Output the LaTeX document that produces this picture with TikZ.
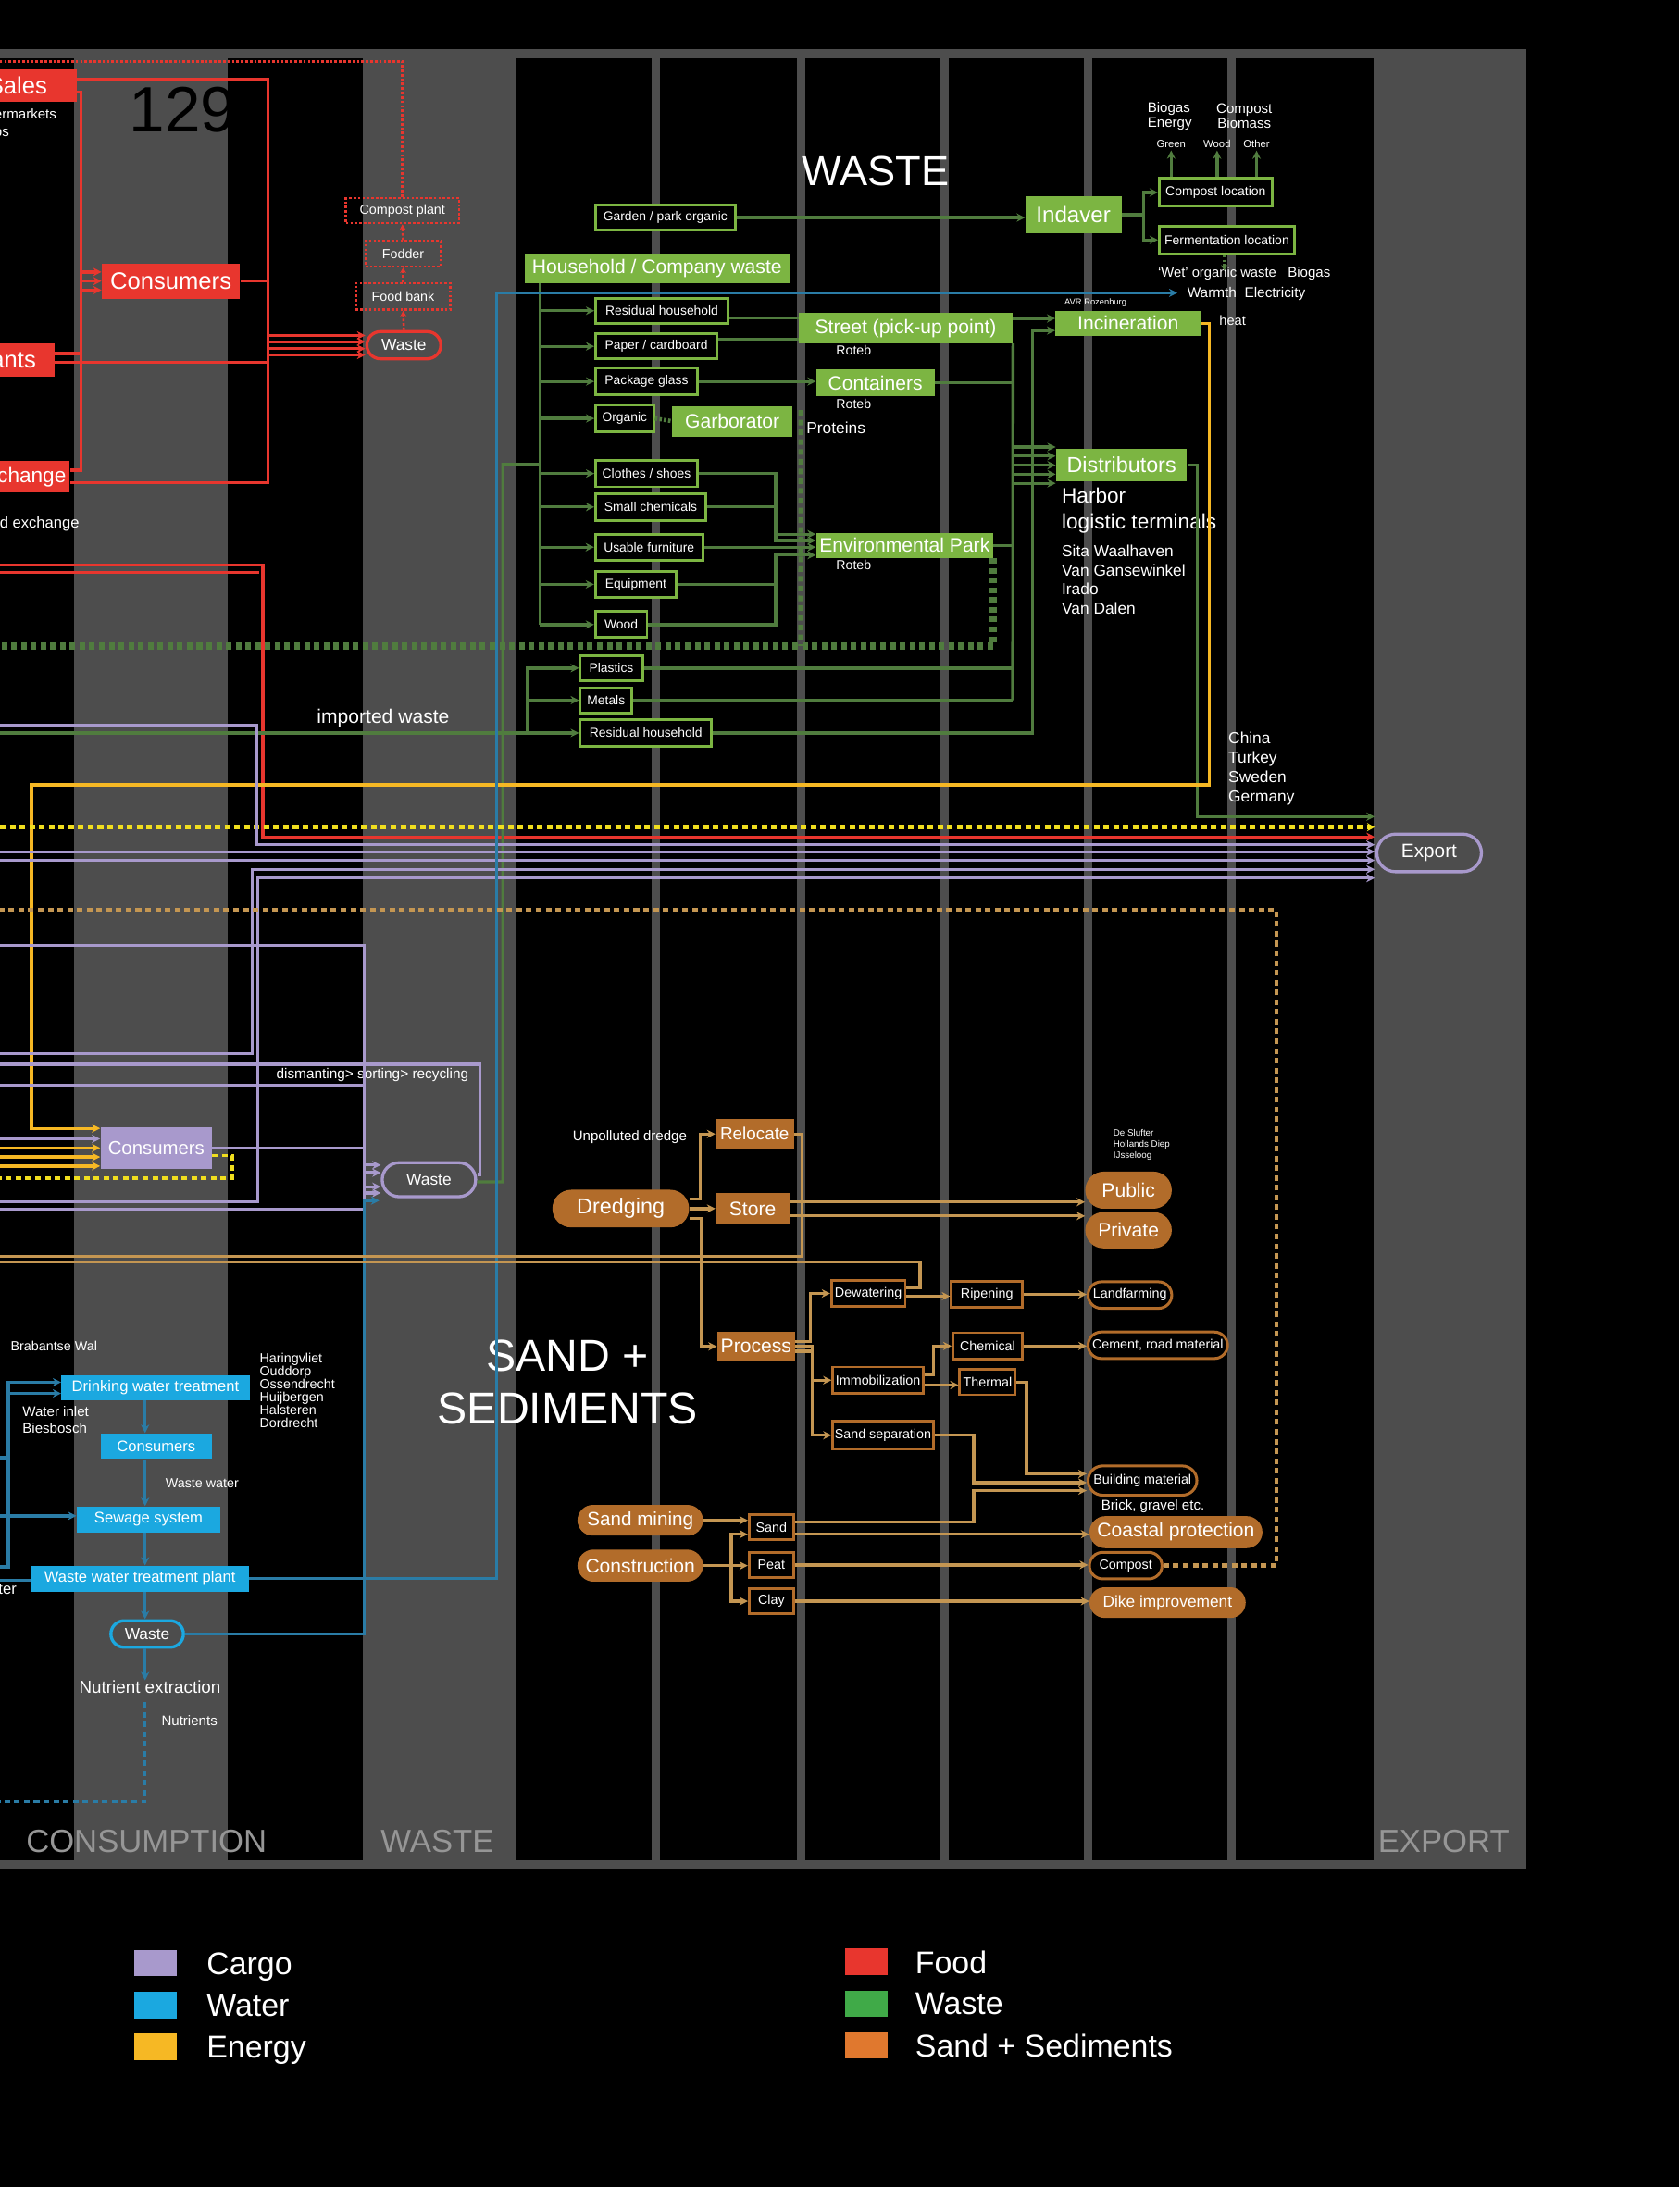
\documentclass[tikz,border=0pt]{standalone}
\usepackage{fontspec}
\setmainfont{Liberation Sans}
\usetikzlibrary{arrows.meta,calc,shapes.misc}
\definecolor{panel}{RGB}{77,77,77}
\definecolor{foodred}{RGB}{232,54,46}
\definecolor{wastefill}{RGB}{124,181,66}
\definecolor{wasteline}{RGB}{80,124,62}
\definecolor{cargo}{RGB}{168,153,204}
\definecolor{water}{RGB}{27,168,224}
\definecolor{waterline}{RGB}{42,124,166}
\definecolor{energy}{RGB}{246,184,36}
\definecolor{energydash}{RGB}{240,222,30}
\definecolor{sandfill}{RGB}{178,108,42}
\definecolor{sandline}{RGB}{196,150,82}
\definecolor{colgray}{RGB}{150,150,150}
\definecolor{legwaste}{RGB}{64,170,72}
\definecolor{legsand}{RGB}{224,120,46}
\newcommand{\fs}[2]{\fontsize{#1}{#2}\selectfont}

\begin{document}
\begin{tikzpicture}[
  x=1pt, y=-1pt,
  every node/.style={text=white, inner sep=0pt, font=\fs{10}{12}},
  sz/.style 2 args={minimum width=#1pt, minimum height=#2pt},
  foodbox/.style={fill=foodred, font=\fs{17}{20}},
  fooddot/.style={draw=foodred, line width=1.7pt, dash pattern=on 1.8pt off 1.4pt, font=\fs{9.5}{11}},
  wastebox/.style={fill=wastefill, font=\fs{14}{16}},
  wasteout/.style={draw=wastefill, line width=1.9pt, fill=black, font=\fs{9.2}{11}},
  cargobox/.style={fill=cargo, font=\fs{13.5}{16}},
  waterbox/.style={fill=water, font=\fs{11}{13}},
  sandbox/.style={fill=sandfill, font=\fs{14}{16}},
  sandpill/.style={rounded rectangle, fill=sandfill, font=\fs{14}{16}},
  sandout/.style={draw=sandfill, line width=1.8pt, fill=black, font=\fs{9.5}{11}},
  sandring/.style={rounded rectangle, draw=sandfill, line width=2pt, fill=black, font=\fs{9.5}{11}},
  ring/.style={rounded rectangle, draw=#1, line width=2.2pt, font=\fs{11.5}{14}},
  pipe/.style={draw=#1, line width=2.2pt},
  flow/.style={pipe=#1, -{Stealth[length=6pt,width=6pt]}},
  dotpipe/.style={draw=#1, line width=1.7pt, dash pattern=on 1.8pt off 1.4pt},
  chkpipe/.style={draw=#1, line width=3.2pt, dash pattern=on 4pt off 3pt},
  collabel/.style={text=colgray, font=\fs{23}{24}},
  legsq/.style={sz={31}{19}},
  legtext/.style={anchor=base west, font=\fs{22.5}{24}},
]
% panel and columns
\useasboundingbox (0,0) rectangle (1204,1568);
\clip (0,0) rectangle (1204,1568);
\fill[black] (0,0) rectangle (1204,1568);
\fill[panel] (0,35) rectangle (1094,1340);
\foreach \a/\b in {0/53,163/260,370/985}
  \fill[black] (\a,42) rectangle (\b,1334);
\foreach \a in {467,571,674,777,880}
  \fill[panel] (\a,42) rectangle ++(6,1292);

% free ends
\foreach \n/\y in {fdTop/44,rA/405,rB/410.5,gChk/463,cA/520,imp/525.5,yD/593,cB/610.6,cC/616.8,sD/652.3,cD/678,cF/755.5,cG/763,cH/778,cI/816.5,yA/823,yB/829.5,yC/836,yE/844.7,cJ/861.7,cE/867,sA/900.7,sB/904.8,wA/1045,wB/1086.8,wC/1123.4,wD/1133,wE/1291.5}
  \coordinate (\n) at (0,\y);
\foreach \n/\y in {eG/585.5,eY/593,eR/600,eL1/605.6,eL2/610.6,eL3/616.8,eL4/623.3,eL5/629.5}
  \coordinate (\n) at (985.5,\y);

% column labels
\node[collabel] (colCons) at (105,1320) {CONSUMPTION};
\node[collabel] (colWaste) at (313.5,1320) {WASTE};
\node[collabel] (colExport) at (1035,1320) {EXPORT};
\node[text=black, font=\fs{46}{46}] (pnum) at (131,79) {129};

% food
\node[foodbox, sz={85}{23}] (sales) at (12.5,61.5) {Sales};
\node[align=left, anchor=west, font=\fs{10}{12}] (shops) at (-22,89) {Supermarkets\\Shops};
\node[foodbox, sz={99}{25}] (consF) at (122.5,201.5) {Consumers};
\node[foodbox, sz={118}{24}] (rest) at (-20,258) {Restaurants};
\node[foodbox, font=\fs{15}{18}, sz={72}{22.5}] (exch) at (14,342) {Exchange};
\node[anchor=east, font=\fs{11}{13}] (fexch) at (57,376) {Food exchange};
\node[ring=foodred, sz={53}{19.5}] (wasteF) at (289.5,247.5) {Waste};
\node[fooddot, sz={68}{19}] (fbank) at (289,212.5) {Food bank};
\node[fooddot, sz={54}{18}] (fodder) at (289,182) {Fodder};
\node[fooddot, sz={81}{18}] (cplant) at (288.5,151) {Compost plant};

% waste
\node[font=\fs{30}{30}] (titleWaste) at (627.6,123) {WASTE};
\node[wasteout, sz={100}{18}] (garden) at (477,156) {Garden / park organic};
\node[wastebox, font=\fs{16}{18}, sz={69}{26}] (indaver) at (769.5,154) {Indaver};
\node[wasteout, font=\fs{9.3}{11}, sz={81}{20}] (comploc) at (871.5,138) {Compost location};
\node[wasteout, font=\fs{9.3}{11}, sz={97}{20}] (fermloc) at (879.5,172) {Fermentation location};
\node[align=left, anchor=west, font=\fs{10}{10.5}] (bioE) at (822.5,83.3) {Biogas\\Energy};
\node[align=center, font=\fs{10}{10.5}] (compB) at (892,83.3) {Compost\\Biomass};
\node[font=\fs{7.5}{8}] (lGreen) at (839.6,103) {Green};
\node[font=\fs{7.5}{8}] (lWood) at (872.5,103) {Wood};
\node[font=\fs{7.5}{8}] (lOther) at (900.8,103) {Other};
\node[anchor=west, font=\fs{9.8}{11}] (wetorg) at (830,196) {`Wet' organic waste};
\node[anchor=west, font=\fs{10}{11}] (biogas) at (923,196) {Biogas};
\node[anchor=west, font=\fs{10.2}{11}] (warmth) at (851,211) {Warmth\ \ Electricity};
\node[anchor=west, font=\fs{6.2}{7}] (avr) at (763,217) {AVR Rozenburg};
\node[anchor=west, font=\fs{9.7}{11}] (heat) at (874,229.5) {heat};
\node[wastebox, sz={190}{21}] (household) at (471,192.5) {Household / Company waste};
\node[wasteout, sz={95}{18}] (resid1) at (474.5,222.8) {Residual household};
\node[wasteout, sz={87}{18}] (paper) at (470.5,248.3) {Paper / cardboard};
\node[wasteout, sz={73}{19}] (glass) at (463.5,273.5) {Package glass};
\node[wasteout, sz={41.5}{19}] (organic) at (447.8,300) {Organic};
\node[wasteout, sz={73}{19}] (clothes) at (463.5,339.5) {Clothes / shoes};
\node[wasteout, sz={79}{19}] (smallchem) at (466.5,363.5) {Small chemicals};
\node[wasteout, sz={77}{18.6}] (furniture) at (465.3,392.3) {Usable furniture};
\node[wasteout, sz={58}{19}] (equipment) at (455.8,419) {Equipment};
\node[wasteout, sz={37}{18.5}] (wood) at (445.3,447.8) {Wood};
\node[wasteout, sz={44.6}{18}] (plastics) at (438.3,479) {Plastics};
\node[wasteout, sz={37}{18}] (metals) at (434.5,502) {Metals};
\node[wasteout, sz={94}{19}] (resid2) at (463,525.5) {Residual household};
\node[wastebox, sz={153.4}{21.5}] (street) at (649.3,235.3) {Street (pick-up point)};
\node[wastebox, sz={85}{19}] (containers) at (627.5,274.5) {Containers};
\node[wastebox, sz={86}{22}] (garborator) at (525,302) {Garborator};
\node[wastebox, sz={127}{18}] (envpark) at (648.5,391) {Environmental Park};
\node[wastebox, sz={104}{18}] (incin) at (808.7,231.8) {Incineration};
\node[wastebox, font=\fs{15.5}{18}, sz={94}{23}] (distrib) at (804,333.5) {Distributors};
\node[font=\fs{9.4}{11}] (roteb1) at (612,251) {Roteb};
\node[font=\fs{9.4}{11}] (roteb2) at (612,289.4) {Roteb};
\node[font=\fs{9.4}{11}] (roteb3) at (612,405) {Roteb};
\node[anchor=west, font=\fs{11.5}{13}] (proteins) at (578,306.7) {Proteins};
\node[align=left, anchor=west, font=\fs{15}{18.5}] (harbor) at (761,366) {Harbor\\logistic terminals};
\node[align=left, anchor=west, font=\fs{11.5}{13.7}] (distnames) at (761,415.5) {Sita Waalhaven\\Van Gansewinkel\\Irado\\Van Dalen};
\node[anchor=west, font=\fs{14}{16}] (impw) at (227,515) {imported waste};
\node[align=left, anchor=west, font=\fs{11.5}{14}] (countries) at (880.5,551) {China\\Turkey\\Sweden\\Germany};

% cargo
\node[cargobox, sz={80}{30}] (consC) at (112,823) {Consumers};
\node[ring=cargo, sz={67}{24.4}] (wasteC) at (307.5,845.8) {Waste};
\node[font=\fs{10.2}{11}] (recyc) at (267,771) {dismanting> sorting> recycling};
\node[ring=cargo, font=\fs{13.8}{16}, sz={75}{27}] (export) at (1024.5,611.5) {Export};

% water
\node[anchor=west, font=\fs{9.5}{11}] (brabant) at (7.5,965) {Brabantse Wal};
\node[waterbox, sz={135}{18}] (drinking) at (111.5,995) {Drinking water treatment};
\node[align=left, anchor=west, font=\fs{10}{12}] (inlet) at (16,1018) {Water inlet\\Biesbosch};
\node[align=left, anchor=west, font=\fs{9.5}{9.3}] (towns) at (186,996.8) {Haringvliet\\Ouddorp\\Ossendrecht\\Huijbergen\\Halsteren\\Dordrecht};
\node[waterbox, sz={80}{18.4}] (consW) at (112,1036.8) {Consumers};
\node[anchor=west, font=\fs{9.5}{11}] (wwlabel) at (118.5,1063.5) {Waste water};
\node[waterbox, sz={103}{18.6}] (sewage) at (106.5,1089.3) {Sewage system};
\node[waterbox, sz={156.5}{18.4}] (wwtp) at (100.3,1131.8) {Waste water treatment plant};
\node[anchor=east, font=\fs{11}{12}] (inwater) at (12,1139) {Water};
\node[ring=water, sz={52}{19}] (wasteW) at (105.5,1171.5) {Waste};
\node[font=\fs{12.5}{14}] (nutr) at (107.5,1209.5) {Nutrient extraction};
\node[anchor=west, font=\fs{10}{11}] (nutrients) at (115.6,1233.6) {Nutrients};

% sand + sediments
\node[align=center, font=\fs{32}{38}] (titleSand) at (407,991) {SAND +\\SEDIMENTS};
\node[font=\fs{10}{11}] (unpol) at (451.5,815) {Unpolluted dredge};
\node[sandpill, font=\fs{15.5}{18}, sz={98}{27}] (dredging) at (445,866.5) {Dredging};
\node[sandbox, font=\fs{12.5}{14}, sz={56}{22}] (relocate) at (541,813) {Relocate};
\node[sandbox, sz={53}{22.5}] (store) at (539.5,866.8) {Store};
\node[sandbox, sz={56}{21.5}] (process) at (542,965.3) {Process};
\node[align=left, anchor=west, font=\fs{6.5}{7.7}] (dumps) at (798,820.8) {De Slufter\\Hollands Diep\\IJsseloog};
\node[sandpill, sz={62}{26.6}] (public) at (809,853.3) {Public};
\node[sandpill, sz={62}{26}] (private) at (809,882) {Private};
\node[sandout, sz={53}{18.6}] (dewater) at (622.5,927.3) {Dewatering};
\node[sandout, sz={51}{19}] (ripening) at (707.5,928) {Ripening};
\node[sandring, sz={60}{19}] (landfarm) at (810,928.5) {Landfarming};
\node[sandout, sz={65}{19}] (immob) at (629.5,989.5) {Immobilization};
\node[sandout, sz={50}{19}] (chemical) at (708,965) {Chemical};
\node[sandout, sz={40}{18.4}] (thermal) at (708,990.8) {Thermal};
\node[sandring, sz={100}{19}] (cement) at (830,964.5) {Cement, road material};
\node[sandout, sz={72}{20}] (sandsep) at (633,1029) {Sand separation};
\node[sandring, sz={78}{21}] (building) at (819,1061.5) {Building material};
\node[font=\fs{10}{11}] (brick) at (826.5,1080) {Brick, gravel etc.};
\node[sandpill, font=\fs{13.7}{16}, sz={90}{22}] (sandmining) at (459,1090) {Sand mining};
\node[sandpill, sz={90}{23}] (construction) at (459,1122.5) {Construction};
\node[sandout, sz={32}{18}] (sandS) at (553,1095) {Sand};
\node[sandout, sz={32}{18}] (peat) at (553,1122) {Peat};
\node[sandout, sz={32}{18}] (clay) at (553,1148) {Clay};
\node[sandpill, sz={124}{23}] (coastal) at (843,1098.5) {Coastal protection};
\node[sandring, sz={52}{19}] (compostS) at (807,1122.5) {Compost};
\node[sandpill, font=\fs{11.5}{14}, sz={112}{22}] (dike) at (837,1149) {Dike improvement};

% legend
\node[legsq, fill=cargo] (lgCargo) at (111.5,1407.5) {};
\node[legsq, fill=water] (lgWater) at (111.5,1437.5) {};
\node[legsq, fill=energy] (lgEnergy) at (111.5,1467.5) {};
\node[legsq, fill=foodred] (lgFood) at (621,1406.5) {};
\node[legsq, fill=legwaste] (lgWaste) at (621,1436.5) {};
\node[legsq, fill=legsand] (lgSand) at (621,1466.5) {};
\node[legtext] (ltCargo) at (148,1416) {Cargo};
\node[legtext] (ltWater) at (148,1445.5) {Water};
\node[legtext] (ltEnergy) at (148,1475.5) {Energy};
\node[legtext] (ltFood) at (656,1415) {Food};
\node[legtext] (ltWaste) at (656,1444.5) {Waste};
\node[legtext] (ltSand) at (656,1474.5) {Sand + Sediments};

% food connectors
\coordinate (fbT) at (192,57);
\coordinate (fbB) at (192,346);
\coordinate (lbT) at (58,66);
\coordinate (lbB) at (58,337);
\draw[dotpipe=foodred] (cplant.north) |- (fdTop);
\draw[pipe=foodred] (sales.east |- fbT) -- (fbT) -- (fbB) -- (exch.east |- fbB);
\draw[pipe=foodred] (sales.east |- lbT) -- (lbT) -- (lbB) -- (exch.east |- lbB);
\foreach \d in {-6.5,0,6.5}
  \draw[flow=foodred] ($(consF.west -| lbT)+(0,\d)$) -- ($(consF.west)+(0,\d)$);
\draw[pipe=foodred] (consF.east) -- (consF.east -| fbT);
\draw[pipe=foodred] ($(rest.east)+(0,-4.5)$) -- ($(rest.east -| lbT)+(0,-4.5)$);
\draw[pipe=foodred] ($(rest.east)+(0,2)$) -- ($(rest.east -| fbT)+(0,2)$);
\foreach \d in {-7,-2.5,2.5,7}
  \draw[flow=foodred] ($(wasteF.west -| fbT)+(0,\d)$) -- ($(wasteF.west)+(0,\d)$);
\draw[dotpipe=foodred, -{Stealth[length=4pt,width=4.5pt]}] (wasteF.north) -- (fbank.south);
\draw[dotpipe=foodred, -{Stealth[length=4pt,width=4.5pt]}] (fbank.north) -- (fodder.south);
\draw[dotpipe=foodred, -{Stealth[length=4pt,width=4.5pt]}] (fodder.north) -- (cplant.south);
\draw[flow=foodred] (rA) -- (188.5,405) -- (188.5,600) -- (eR);
\draw[pipe=foodred] (rB) -- (186,410.5);

% waste connectors
\draw[flow=wasteline] (garden.east) -- (garden.east -| indaver.west);
\coordinate (ibus) at (820,154);
\draw[pipe=wasteline] (indaver.east) -- (ibus);
\draw[flow=wasteline] (ibus) |- (comploc.west);
\draw[flow=wasteline] (ibus) |- (fermloc.west);
\foreach \n in {lGreen,lWood,lOther}
  \draw[flow=wasteline, shorten >=2pt] (comploc.north -| \n.south) -- (\n.south);
\coordinate (wetin) at (877.6,194);
\draw[dotpipe=wasteline, -{Stealth[length=4pt,width=4.5pt]}] (fermloc.south -| wetin) -- (wetin);
\coordinate (hbT) at (387,204);
\coordinate (hbB) at (387,448);
\draw[pipe=wasteline] (household.south -| hbT) -- (hbB);
\foreach \n in {resid1,paper,glass,organic,clothes,smallchem,furniture,equipment,wood}
  \draw[flow=wasteline] (\n.west -| hbT) -- (\n.west);
\coordinate (hj) at (387,333);
\draw[pipe=wasteline] (hj) -| (360.5,847.4) -- ($(wasteC.east)+(0,1.6)$);
\draw[pipe=wasteline] ($(resid1.east)+(0,5)$) -- ($(resid1.east -| street.west)+(0,5)$);
\draw[pipe=wasteline] ($(paper.east)+(0,-5)$) -- ($(paper.east -| street.west)+(0,-5)$);
\draw[flow=wasteline] ($(street.east)+(0,-7)$) -- ($(street.east -| incin.west)+(0,-7)$);
\draw[flow=wasteline] (glass.east) -- (glass.east -| containers.west);
\coordinate (busA) at (726,246);
\coordinate (busAb) at (726,502);
\draw[pipe=wasteline] (street.south east) -- (busAb);
\draw[pipe=wasteline] (containers.east) -- (containers.east -| busA);
\draw[pipe=wasteline] (envpark.east) -- (envpark.east -| busA);
\draw[pipe=wasteline] (plastics.east) -- (plastics.east -| busA);
\draw[pipe=wasteline] (metals.east) -- (metals.east -| busA);
\foreach \d in {-13,-6.5,0,6.5,13}
  \draw[flow=wasteline] ($(distrib.west -| busA)+(0,\d)$) -- ($(distrib.west)+(0,\d)$);
\coordinate (busB) at (740,237);
\draw[flow=wasteline] (resid2.east) -| (busB) -- (busB -| incin.west);
\coordinate (ebus) at (556,382);
\draw[flow=wasteline] (clothes.east) -| ($(envpark.west -| ebus)+(0,-8)$) -- ($(envpark.west)+(0,-8)$);
\draw[flow=wasteline] (smallchem.east) -| ($(envpark.west -| ebus)+(0,-3.5)$) -- ($(envpark.west)+(0,-3.5)$);
\draw[flow=wasteline] (furniture.east) -- (furniture.east -| envpark.west);
\draw[flow=wasteline] (equipment.east) -| ($(envpark.west -| ebus)+(0,7)$) -- ($(envpark.west)+(0,7)$);
\draw[pipe=wasteline] (wood.east) -| ($(envpark.west -| ebus)+(0,7)$);
\draw[dotpipe=wasteline, line width=3pt] (organic.east) -- (garborator.west);
\coordinate (gd) at (574,463);
\draw[chkpipe=wasteline, line width=3.5pt] ($(garborator.east)+(6,-8)$) -- (gd);
\draw[chkpipe=wasteline, line width=5.5pt] (envpark.south east) |- (gChk);
\coordinate (ib) at (378,478);
\draw[pipe=wasteline] (imp) -| (ib);
\foreach \n in {plastics,metals,resid2}
  \draw[flow=wasteline] (\n.west -| ib) -- (\n.west);
\draw[flow=wasteline] (distrib.east) -| (858.5,585.5) -- (eG);

% energy connectors
\coordinate (yIn) at (22.5,809);
\draw[flow=energy] (incin.east) -| (867,562.6) -| (yIn) -- (yIn -| consC.west);
\draw[chkpipe=energydash, -{Stealth[length=5.5pt,width=6pt]}] (yD) -- (eY);
\draw[flow=energy] (yA) -- (yA -| consC.west);
\draw[flow=energy] (yB) -- (yB -| consC.west);
\draw[flow=energy] (yC) -- (yC -| consC.west);
\coordinate (yLoop) at (166.6,828.5);
\draw[chkpipe=energydash, line width=2.5pt] (yLoop -| consC.east) -- (yLoop) -- (166.6,844.7) -- (yE);

% cargo connectors
\coordinate (cbus) at (261,678);
\draw[flow=cargo] (cA) -- (184,520) -- (184,605.6) -- (eL1);
\draw[flow=cargo] (cB) -- (eL2);
\draw[flow=cargo] (cC) -- (eL3);
\draw[flow=cargo] (cF) -- (181,755.5) -- (181,623.3) -- (eL4);
\draw[flow=cargo] (cJ) -- (185,861.7) -- (185,629.5) -- (eL5);
\draw[pipe=cargo] (cD) -- (cbus) -- (261,867) -- (cE);
\draw[pipe=cargo] (cH) -- (cH -| cbus);
\draw[pipe=cargo] (consC.east) -- (consC.east -| cbus);
\draw[pipe=cargo] (cG) -- (344,763) -- (344,842) -- ($(wasteC.east)+(0,-3.8)$);
\foreach \d in {-10.5,-5,5,9.5}
  \draw[flow=cargo] ($(wasteC.west -| cbus)+(0,\d)$) -- ($(wasteC.west)+(0,\d)$);
\draw[flow=cargo] (cI) -- (cI -| consC.west);

% water connectors
\coordinate (wx) at (104,0);
\draw[flow=waterline] (drinking.south -| wx) -- (consW.north -| wx);
\draw[flow=waterline] (consW.south -| wx) -- (sewage.north -| wx);
\draw[flow=waterline] (sewage.south -| wx) -- (wwtp.north -| wx);
\draw[flow=waterline] (wwtp.south -| wx) -- (wasteW.north -| wx);
\draw[flow=waterline] (wasteW.south -| wx) -- (nutr.north -| wx);
\draw[pipe=waterline, dash pattern=on 4pt off 3pt] ($(nutr.south -| wx)+(0,6)$) |- (wE);
\coordinate (wl) at (6,991);
\draw[flow=waterline] (wC) -| (wl) -- ($(drinking.west)+(0,-4)$);
\draw[flow=waterline] ($(wl)+(0,8)$) -- ($(drinking.west)+(0,4)$);
\draw[pipe=waterline] (wA) -- (6,1045);
\draw[flow=waterline] (wB) -- (wB -| sewage.west);
\draw[pipe=waterline] (wD) -- (wD -| wwtp.west);
\coordinate (wtip) at (844,210);
\draw[flow=waterline] (wwtp.east) -| (356,210) -- (wtip);
\draw[flow=waterline] (wasteW.east) -| ($(wasteC.west -| cbus)+(0,15)$) -- ($(wasteC.west)+(-1,15)$);

% sand connectors
\draw[flow=sandline] ($(dredging.east)+(0,-7)$) -| ($(relocate.west)+(-11,0)$) -- (relocate.west);
\draw[flow=sandline] (dredging.east) -- (dredging.east -| store.west);
\draw[flow=sandline] ($(dredging.east)+(0,7)$) -| ($(process.west)+(-11,0)$) -- (process.west);
\draw[flow=sandline] ($(store.east)+(0,-5)$) -- ($(store.east -| public.west)+(0,-5)$);
\draw[flow=sandline] ($(store.east)+(0,5)$) -- ($(store.east -| private.west)+(0,5)$);
\draw[pipe=sandline] (relocate.east) -| (575,900.7) -- (sA);
\draw[pipe=sandline] ($(dewater.east)+(0,-4)$) -| (659.6,904.8) -- (sB);
\draw[flow=sandline] ($(dewater.east)+(0,2)$) -- ($(dewater.east -| ripening.west)+(0,2)$);
\draw[flow=sandline] (ripening.east) -- (ripening.east -| landfarm.west);
\draw[flow=sandline] ($(process.east)+(0,-3.5)$) -| ($(dewater.west)+(-14,0)$) -- (dewater.west);
\draw[flow=sandline] (process.east) -| ($(immob.west)+(-14,0)$) -- (immob.west);
\draw[flow=sandline] ($(process.east)+(0,3.5)$) -| ($(sandsep.west)+(-14,0)$) -- (sandsep.west);
\draw[flow=sandline] ($(immob.east)+(0,-4)$) -| ($(chemical.west)+(-13,0)$) -- (chemical.west);
\draw[flow=sandline] ($(immob.east)+(0,3.5)$) -- ($(immob.east -| thermal.west)+(0,3.5)$);
\draw[flow=sandline] (chemical.east) -- (chemical.east -| cement.west);
\coordinate (bb) at (698,1063);
\draw[flow=sandline] (thermal.east) -| (735.8,1056.7) -- ($(building.west)+(0,-4.8)$);
\draw[flow=sandline] (sandsep.east) -| (bb) -- (bb -| building.west);
\draw[flow=sandline] ($(sandS.east)+(0,-4)$) -| (698,1068.7) -- ($(building.west)+(0,7.2)$);
\draw[flow=sandline] ($(sandS.east)+(0,5)$) -- ($(sandS.east -| coastal.west)+(0,5)$);
\draw[flow=sandline] (sandmining.east) -- (sandmining.east -| sandS.west);
\draw[flow=sandline] (construction.east) -- (construction.east -| peat.west);
\draw[flow=sandline] ($(construction.east)+(20,0)$) |- ($(sandS.west)+(0,5)$);
\draw[flow=sandline] ($(construction.east)+(20,0)$) |- (clay.west);
\draw[flow=sandline] (peat.east) -- (peat.east -| compostS.west);
\draw[flow=sandline] (clay.east) -- (clay.east -| dike.west);
\draw[chkpipe=sandline] (compostS.east) -| (915,652.3) -- (sD);
\end{tikzpicture}
\end{document}
